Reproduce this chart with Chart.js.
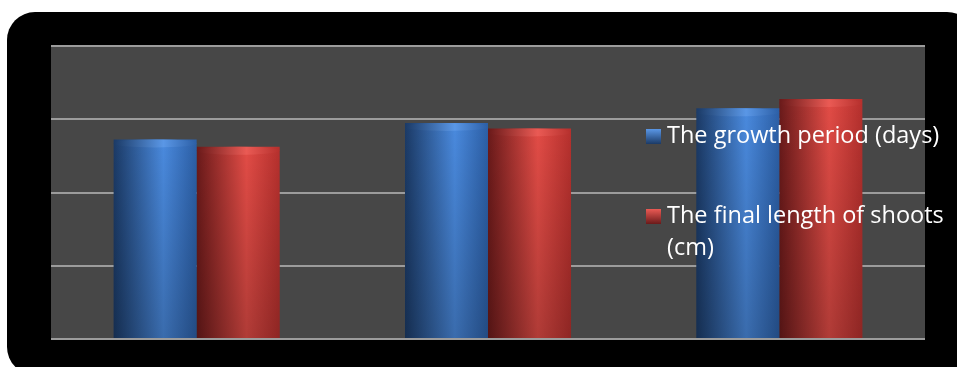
<!DOCTYPE html>
<html>
<head>
<meta charset="utf-8">
<script src="https://cdn.jsdelivr.net/npm/chart.js@4.4.1/dist/chart.umd.min.js"></script>
<style>
  html, body { margin: 0; padding: 0; background: #fff; }
  #wrap { width: 957px; height: 367px; }
</style>
</head>
<body>
<div id="wrap"><canvas id="chart"></canvas></div>
<script>
// データ
const categories = ["1", "2", "3"];
const growthPeriod = [109, 118, 126];
const shootLength = [105, 115, 131];
const seriesLabels = ["The growth period (days)", "The final length of shoots (cm)"];
const yTicks = [0, 40, 80, 120, 160];

// 円柱の色 (左・中央・右・上面)
const blueTones = ["#1b3a66", "#4a8ade", "#2c5fa6", "#5a97e6"];
const redTones = ["#6a1a1a", "#e24c46", "#b5302d", "#ea5a54"];

const CAT_PCT = 0.57;

// 棒の横方向グラデーション(スケールから位置を計算)
function cylinderFill(tones) {
  return (ctx) => {
    const chart = ctx.chart;
    const xs = chart.scales.x;
    if (!xs || ctx.dataIndex === undefined || !isFinite(xs.width)) return tones[1];
    const nSets = chart.data.datasets.length;
    const catW = xs.width / categories.length;
    const barW = catW * CAT_PCT / nSets;
    const center = xs.getPixelForValue(ctx.dataIndex);
    const left = center - catW * CAT_PCT / 2 + ctx.datasetIndex * barW;
    const g = chart.ctx.createLinearGradient(left, 0, left + barW, 0);
    g.addColorStop(0, tones[0]);
    g.addColorStop(0.6, tones[1]);
    g.addColorStop(1, tones[2]);
    return g;
  };
}

// 背景(黒い角丸の枠とプロット領域)
const framePlugin = {
  id: "frame",
  beforeDraw(chart) {
    const { ctx, chartArea } = chart;
    ctx.save();
    ctx.fillStyle = "#ffffff";
    ctx.fillRect(0, 0, chart.width, chart.height);
    ctx.fillStyle = "#000000";
    ctx.beginPath();
    ctx.roundRect(7, 12, chart.width + 11, chart.height - 4, 28);
    ctx.fill();
    ctx.fillStyle = "#474747";
    ctx.fillRect(chartArea.left, chartArea.top, chartArea.right - chartArea.left, chartArea.bottom - chartArea.top);
    ctx.restore();
  }
};

// 円柱の陰影と上面
const cylinderPlugin = {
  id: "cylinder",
  afterDatasetsDraw(chart) {
    const ctx = chart.ctx;
    chart.data.datasets.forEach((ds, di) => {
      const tones = di === 0 ? blueTones : redTones;
      chart.getDatasetMeta(di).data.forEach(bar => {
        const left = bar.x - bar.width / 2;
        const top = bar.y;
        const h = bar.base - bar.y;
        ctx.save();
        // 下に向かって少し暗く
        const vg = ctx.createLinearGradient(0, top, 0, bar.base);
        vg.addColorStop(0, "rgba(0,0,0,0)");
        vg.addColorStop(1, "rgba(0,0,0,0.22)");
        ctx.fillStyle = vg;
        ctx.fillRect(left, top, bar.width, h);
        // 上面の楕円
        const ry = 4;
        ctx.beginPath();
        ctx.ellipse(bar.x, top + ry, bar.width / 2, ry, 0, 0, Math.PI * 2);
        const cg = ctx.createLinearGradient(left, 0, left + bar.width, 0);
        cg.addColorStop(0, tones[0]);
        cg.addColorStop(0.6, tones[3]);
        cg.addColorStop(1, tones[2]);
        ctx.fillStyle = cg;
        ctx.fill();
        ctx.restore();
      });
    });
  }
};

// 凡例(プロット領域の右側に重ねて描く)
const legendPlugin = {
  id: "sideLegend",
  afterDraw(chart) {
    const ctx = chart.ctx;
    const boxX = 646, textX = 667, maxW = chart.width - textX - 4;
    const baselines = [143, 223];
    const lineH = 32;
    ctx.save();
    ctx.font = "23.5px 'Open Sans'";
    ctx.textBaseline = "alphabetic";
    chart.data.datasets.forEach((ds, i) => {
      const tones = i === 0 ? blueTones : redTones;
      const by = baselines[i] - 14;
      const g = ctx.createLinearGradient(0, by, 0, by + 15);
      g.addColorStop(0, tones[3]);
      g.addColorStop(1, tones[0]);
      ctx.fillStyle = g;
      ctx.fillRect(boxX, by, 15, 15);
      ctx.fillStyle = "#ffffff";
      // 折り返し
      const words = ds.label.split(" ");
      const lines = [];
      let line = "";
      words.forEach(w => {
        const test = line ? line + " " + w : w;
        if (ctx.measureText(test).width > maxW && line) {
          lines.push(line);
          line = w;
        } else {
          line = test;
        }
      });
      lines.push(line);
      lines.forEach((l, k) => ctx.fillText(l, textX, baselines[i] + k * lineH));
    });
    ctx.restore();
  }
};

new Chart(document.getElementById("chart"), {
  type: "bar",
  data: {
    labels: categories,
    datasets: [
      { label: seriesLabels[0], data: growthPeriod, backgroundColor: cylinderFill(blueTones), borderWidth: 0 },
      { label: seriesLabels[1], data: shootLength, backgroundColor: cylinderFill(redTones), borderWidth: 0 }
    ]
  },
  options: {
    responsive: true,
    maintainAspectRatio: false,
    animation: false,
    datasets: { bar: { categoryPercentage: CAT_PCT, barPercentage: 1 } },
    layout: { padding: { left: 51, top: 46, right: 32, bottom: 28 } },
    plugins: { legend: { display: false }, tooltip: { enabled: false } },
    scales: {
      x: { display: false },
      y: {
        min: yTicks[0],
        max: yTicks[yTicks.length - 1],
        afterBuildTicks: axis => { axis.ticks = yTicks.map(v => ({ value: v })); },
        ticks: { display: false },
        border: { display: false },
        grid: { color: "#9c9c9c", lineWidth: 2, drawTicks: false }
      }
    }
  },
  plugins: [framePlugin, cylinderPlugin, legendPlugin]
});
</script>
</body>
</html>
